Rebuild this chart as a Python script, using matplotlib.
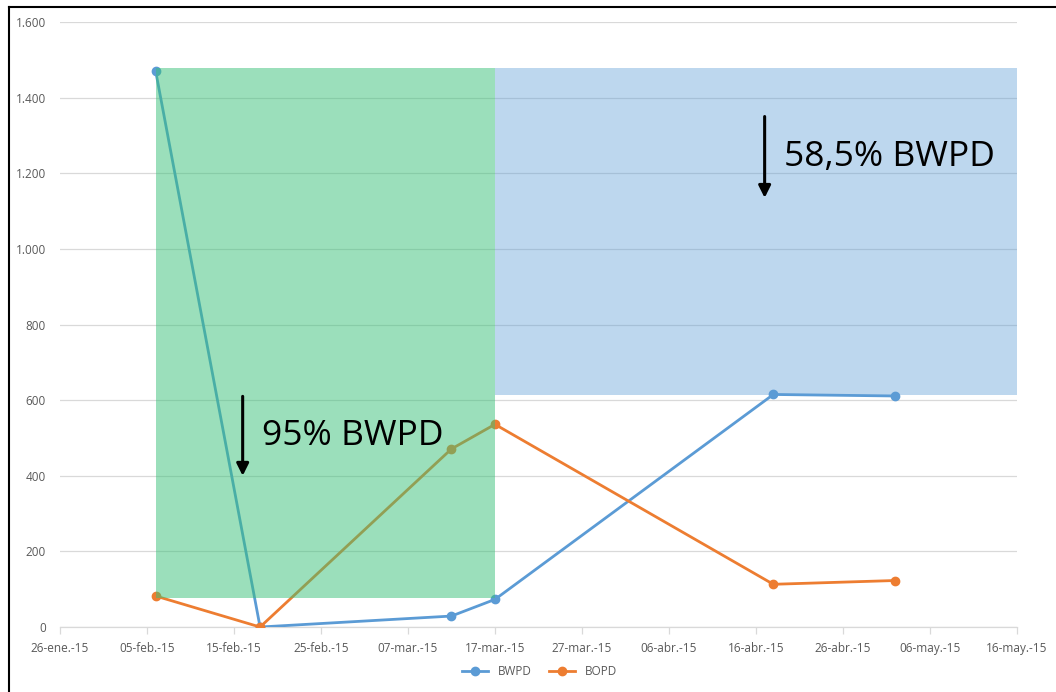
import datetime as dt

import matplotlib
matplotlib.use("Agg")
import matplotlib.pyplot as plt
import matplotlib.dates as mdates
from matplotlib.ticker import FuncFormatter
from matplotlib.lines import Line2D

# data
dates = [
    dt.date(2015, 2, 6),
    dt.date(2015, 2, 18),
    dt.date(2015, 3, 12),
    dt.date(2015, 3, 17),
    dt.date(2015, 4, 18),
    dt.date(2015, 5, 2),
]
bwpd = [1470, 0, 29, 73, 615, 611]
bopd = [82, 0, 471, 536, 113, 123]

tick_dates = [dt.date(2015, 1, 26) + dt.timedelta(days=10 * i) for i in range(12)]
tick_labels = [
    "26-ene.-15", "05-feb.-15", "15-feb.-15", "25-feb.-15", "07-mar.-15",
    "17-mar.-15", "27-mar.-15", "06-abr.-15", "16-abr.-15", "26-abr.-15",
    "06-may.-15", "16-may.-15",
]
y_ticks = [0, 200, 400, 600, 800, 1000, 1200, 1400, 1600]

# shaded regions: (start, end, bottom, top)
green_zone = (dt.date(2015, 2, 6), dt.date(2015, 3, 17), 78, 1478)
blue_zone = (dt.date(2015, 3, 17), dt.date(2015, 5, 16), 614, 1478)

notes = [
    ("95% BWPD", dt.date(2015, 2, 16), 610, 400),
    ("58,5% BWPD", dt.date(2015, 4, 17), 1350, 1135),
]

blue = "#5B9BD5"
orange = "#ED7D31"
grid_c = "#D9D9D9"
label_c = "#595959"

plt.rcParams["font.family"] = ["Open Sans", "DejaVu Sans"]

fig = plt.figure(figsize=(10.56, 6.92), dpi=100)
ax = fig.add_axes([0.0568, 0.0939, 0.9062, 0.8743])

ax.plot(dates, bwpd, color=blue, lw=2.0, marker="o", ms=6, zorder=3)
ax.plot(dates, bopd, color=orange, lw=2.0, marker="o", ms=6, zorder=3)

g0, g1, gb, gt = green_zone
ax.fill_between([g0, g1], gb, gt, color="#39C178", alpha=0.5, lw=0, zorder=4)
b0, b1, bb, bt = blue_zone
ax.fill_between([b0, b1], bb, bt, color=blue, alpha=0.4, lw=0, zorder=4)

for text, d, y0, y1 in notes:
    ax.annotate("", xy=(d, y1), xytext=(d, y0),
                arrowprops=dict(arrowstyle="-|>", color="black", lw=2.2,
                                mutation_scale=18, shrinkA=0, shrinkB=0),
                zorder=5)
    ax.text(mdates.date2num(d) + 2.2, (y0 + y1) / 2, text, fontsize=25.5,
            va="center", ha="left", color="black", zorder=5)

ax.set_xlim(tick_dates[0], tick_dates[-1])
ax.set_ylim(0, 1600)
ax.set_xticks(tick_dates)
ax.set_xticklabels(tick_labels)
ax.set_yticks(y_ticks)
ax.yaxis.set_major_formatter(FuncFormatter(lambda v, p: f"{int(v):,}".replace(",", ".")))

ax.grid(axis="y", color=grid_c, lw=0.9, zorder=0)
for s in ["top", "right", "left"]:
    ax.spines[s].set_visible(False)
ax.spines["bottom"].set_color(grid_c)
ax.spines["bottom"].set_linewidth(0.9)
ax.tick_params(axis="x", colors=grid_c, length=5, width=0.9, labelcolor=label_c,
               labelsize=8.5, pad=6)
ax.tick_params(axis="y", length=0, labelcolor=label_c, labelsize=8.5, pad=10)

handles = [
    Line2D([], [], color=blue, lw=2.0, marker="o", ms=6),
    Line2D([], [], color=orange, lw=2.0, marker="o", ms=6),
]
fig.legend(handles, ["BWPD", "BOPD"], loc="center", bbox_to_anchor=(0.511, 0.029),
           ncol=2, frameon=False, fontsize=8.5, handlelength=2.2,
           columnspacing=1.5, labelcolor=label_c)

# frame edges visible in the screenshot
fig.add_artist(Line2D([9 / 1056, 9 / 1056], [0, 1 - 7 / 692], color="black", lw=1.5,
                      transform=fig.transFigure))
fig.add_artist(Line2D([9 / 1056, 1], [1 - 7 / 692, 1 - 7 / 692], color="black", lw=1.5,
                      transform=fig.transFigure))

fig.savefig("out.png", dpi=100)
